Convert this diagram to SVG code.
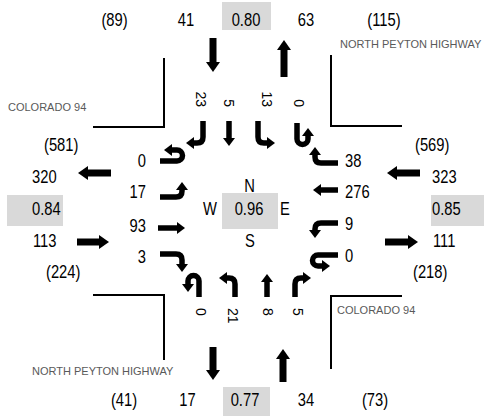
<svg xmlns="http://www.w3.org/2000/svg" width="484" height="416" viewBox="0 0 484 416">
<style>
.n{font-family:"Liberation Sans",Arial,sans-serif;font-size:18px;fill:#000}
.m{text-anchor:middle}
.e{text-anchor:end}
.r{font-family:"Liberation Sans",Arial,sans-serif;font-size:14px;fill:#000;dominant-baseline:central}
.road{font-family:"Liberation Sans",Arial,sans-serif;font-size:11px;fill:#595959}
.box{fill:#d9d9d9}
.edge{fill:none;stroke:#000;stroke-width:2}
.sm{fill:none;stroke:#000;stroke-width:5.5;marker-end:url(#ah)}
.big{fill:none;stroke:#000;stroke-width:7;marker-end:url(#bh)}
</style>
<defs>
<marker id="ah" markerUnits="userSpaceOnUse" markerWidth="9" markerHeight="13" refX="0" refY="0" orient="auto" viewBox="0 -6.5 9 13"><path d="M0,-6 L8,0 L0,6 Z" fill="#000"/></marker>
<marker id="bh" markerUnits="userSpaceOnUse" markerWidth="11" markerHeight="15" refX="0" refY="0" orient="auto" viewBox="0 -7.5 11 15"><path d="M0,-7 L10,0 L0,7 Z" fill="#000"/></marker>
</defs>

<g id="road-edges">
<path class="edge" d="M93,127 H164 V58"/>
<path class="edge" d="M402,126 H331 V55"/>
<path class="edge" d="M93,295 H164 V360"/>
<path class="edge" d="M402,296 H331 V369"/>
</g>

<g id="road-labels">
<text class="road" x="340" y="48">NORTH PEYTON HIGHWAY</text>
<text class="road" x="8" y="111">COLORADO 94</text>
<text class="road" x="337" y="314">COLORADO 94</text>
<text class="road" x="32" y="375">NORTH PEYTON HIGHWAY</text>
</g>

<g id="north-leg">
<rect class="box" x="222" y="2" width="49" height="28"/>
<text class="n m" transform="translate(114.5,26) scale(.82,1)">(89)</text>
<text class="n m" transform="translate(186,26) scale(.82,1)">41</text>
<text class="n m" transform="translate(246,26) scale(.82,1)">0.80</text>
<text class="n m" transform="translate(306,26) scale(.82,1)">63</text>
<text class="n m" transform="translate(384,26) scale(.82,1)">(115)</text>
<text class="r e" transform="translate(201,107) rotate(90)">23</text>
<text class="r e" transform="translate(229,107) rotate(90)">5</text>
<text class="r e" transform="translate(267,107) rotate(90)">13</text>
<text class="r e" transform="translate(298.5,107) rotate(90)">0</text>
</g>

<g id="south-leg">
<rect class="box" x="223" y="387" width="47" height="29"/>
<text class="n m" transform="translate(124,406) scale(.82,1)">(41)</text>
<text class="n m" transform="translate(187.5,406) scale(.82,1)">17</text>
<text class="n m" transform="translate(245,406) scale(.82,1)">0.77</text>
<text class="n m" transform="translate(306,406) scale(.82,1)">34</text>
<text class="n m" transform="translate(375,406) scale(.82,1)">(73)</text>
<text class="r" transform="translate(200.5,308) rotate(90)">0</text>
<text class="r" transform="translate(232.5,308) rotate(90)">21</text>
<text class="r" transform="translate(267.5,308) rotate(90)">8</text>
<text class="r" transform="translate(297.5,308) rotate(90)">5</text>
</g>

<g id="west-leg">
<rect class="box" x="7" y="195" width="56" height="31"/>
<text class="n" transform="translate(44,151) scale(.82,1)">(581)</text>
<text class="n" transform="translate(32,183) scale(.82,1)">320</text>
<text class="n" transform="translate(32,215) scale(.82,1)">0.84</text>
<text class="n" transform="translate(33,247) scale(.82,1)">113</text>
<text class="n" transform="translate(46,278) scale(.82,1)">(224)</text>
<text class="n e" transform="translate(146,167) scale(.82,1)">0</text>
<text class="n e" transform="translate(146,198) scale(.82,1)">17</text>
<text class="n e" transform="translate(146,232) scale(.82,1)">93</text>
<text class="n e" transform="translate(146,263) scale(.82,1)">3</text>
</g>

<g id="east-leg">
<rect class="box" x="431" y="195" width="53" height="31"/>
<text class="n" transform="translate(415,151) scale(.82,1)">(569)</text>
<text class="n" transform="translate(432,183) scale(.82,1)">323</text>
<text class="n" transform="translate(432,215) scale(.82,1)">0.85</text>
<text class="n" transform="translate(433,247) scale(.82,1)">111</text>
<text class="n" transform="translate(413,278) scale(.82,1)">(218)</text>
<text class="n" transform="translate(345,167) scale(.82,1)">38</text>
<text class="n" transform="translate(345,198) scale(.82,1)">276</text>
<text class="n" transform="translate(345,230) scale(.82,1)">9</text>
<text class="n" transform="translate(345,262) scale(.82,1)">0</text>
</g>

<g id="intersection">
<rect class="box" x="222" y="193" width="56" height="36"/>
<text class="n m" transform="translate(249.5,192) scale(.82,1)">N</text>
<text class="n" transform="translate(203,215) scale(.82,1)">W</text>
<text class="n m" transform="translate(249,215) scale(.82,1)">0.96</text>
<text class="n" transform="translate(280,215) scale(.82,1)">E</text>
<text class="n m" transform="translate(250,247) scale(.82,1)">S</text>
</g>

<g id="connectors">
<path class="big" d="M213,38 V62"/>
<path class="big" d="M284,77 V50"/>
<path class="big" d="M213,347 V370"/>
<path class="big" d="M283,382 V359"/>
<path class="big" d="M111,173 H88"/>
<path class="big" d="M77,242 H99"/>
<path class="big" d="M420,173 H397"/>
<path class="big" d="M385,242 H408"/>
<path class="sm" d="M203,121 V137 Q203,143 197,143 H194"/>
<path class="sm" d="M229,121 V138"/>
<path class="sm" d="M258,121 V137 Q258,143 264,143 H267"/>
<path class="sm" d="M297,123 V139 A5.5,5.5 0 0 0 308,139 V136"/>
<path class="sm" d="M160,161 H177 A5.5,5.5 0 0 0 177,150 H172"/>
<path class="sm" d="M160,197 H176 Q182,197 182,191 V190"/>
<path class="sm" d="M158,228 H177"/>
<path class="sm" d="M160,254 H176 Q182,254 182,260 V264"/>
<path class="sm" d="M199,297 V281 A5.5,5.5 0 0 0 188,281 V284"/>
<path class="sm" d="M235,297 V284 Q235,278 229,278 H227"/>
<path class="sm" d="M267,297 V282"/>
<path class="sm" d="M295,297 V284 Q295,278 301,278 H303"/>
<path class="sm" d="M338,163 H321 Q315,163 315,157 V155"/>
<path class="sm" d="M338,190 H321"/>
<path class="sm" d="M338,223 H321 Q315,223 315,229 V230"/>
<path class="sm" d="M338,255 H318 A5.5,5.5 0 0 0 318,266 H322"/>
</g>
</svg>
